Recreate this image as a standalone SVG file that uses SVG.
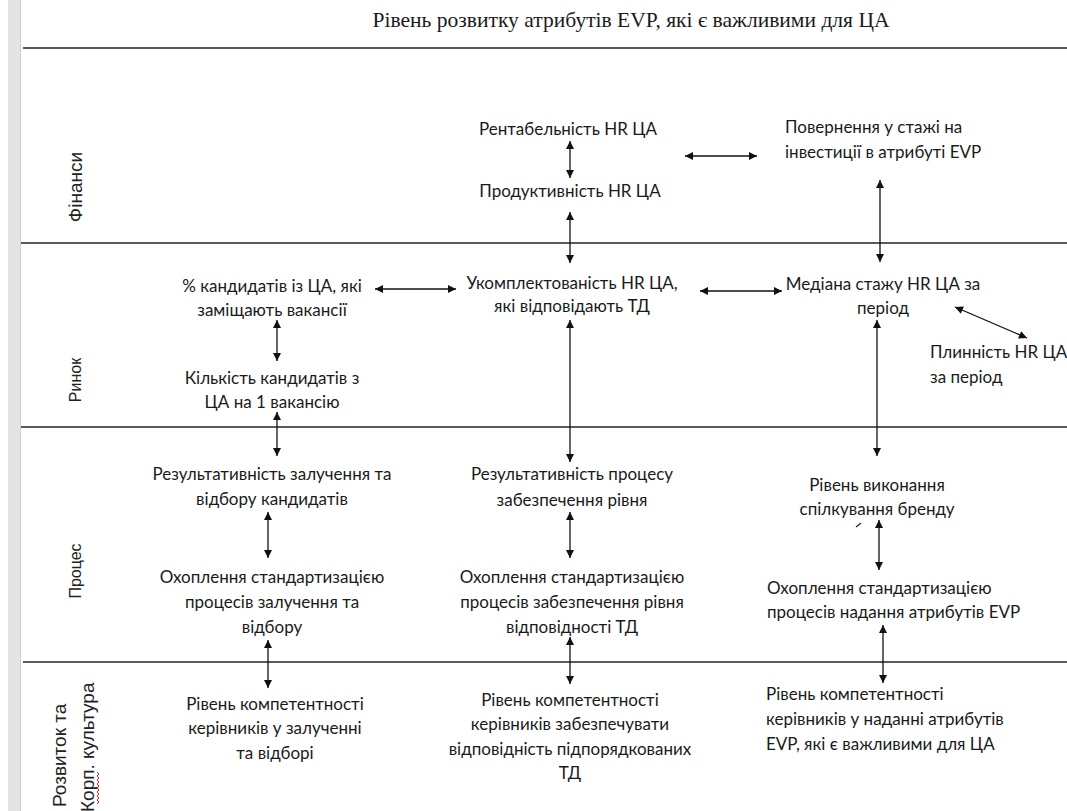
<svg xmlns="http://www.w3.org/2000/svg" width="1067" height="811" viewBox="0 0 1067 811">
  <style>
    .title { font-family: "Liberation Serif", "Times New Roman", serif; font-size: 21px; fill: #1a1a1a; }
    .lane { font-family: "Liberation Sans", Arial, sans-serif; font-size: 16px; fill: #222; }
    .lane-lg { font-size: 19px; }
    .t { font-family: Lato, "Open Sans", sans-serif; font-size: 17px; fill: #1a1a1a; }
    .c { text-anchor: middle; }
    .sep { stroke: #5a5a5a; stroke-width: 2; }
    .con { stroke: #111; stroke-width: 1.3; fill: none; marker-start: url(#head); marker-end: url(#head); }
  </style>
  <defs>
    <marker id="head" viewBox="0 0 10 10" refX="10" refY="5" markerWidth="9" markerHeight="8"
            markerUnits="userSpaceOnUse" orient="auto-start-reverse">
      <path d="M0,0 L10,5 L0,10 z" fill="#111"/>
    </marker>
  </defs>

  <rect width="1067" height="811" fill="#fff"/>

  <!-- left margin strip -->
  <rect x="8" y="0" width="12" height="811" fill="#e4e4e4"/>
  <line x1="20.5" y1="0" x2="20.5" y2="811" stroke="#cfcfcf" stroke-width="1"/>

  <!-- title -->
  <text class="title c" x="631" y="27" textLength="517" lengthAdjust="spacingAndGlyphs">Рівень розвитку атрибутів EVP, які є важливими для ЦА</text>

  <!-- lane separators and lane names -->
  <g id="lanes">
    <line class="sep" x1="23" y1="48" x2="1067" y2="48"/>
    <line class="sep" x1="21" y1="243" x2="1067" y2="243"/>
    <line class="sep" x1="21" y1="427" x2="1067" y2="427"/>
    <line class="sep" x1="23" y1="662" x2="1067" y2="662"/>
    <text class="lane lane-lg c" transform="rotate(-90 82 187)" x="82" y="187">Фінанси</text>
    <text class="lane c" transform="rotate(-90 81 380)" x="81" y="380">Ринок</text>
    <text class="lane c" transform="rotate(-90 81 571)" x="81" y="571">Процес</text>
    <text class="lane lane-lg" transform="rotate(-90 66 807)" x="66" y="807">Розвиток та</text>
    <text class="lane lane-lg" transform="rotate(-90 94 812)" x="94" y="812">Корп. культура</text>
    <!-- spell-check squiggle under "Корп." -->
    <path d="M97,804 l2,-2 l-2,-2 l2,-2 l-2,-2 l2,-2 l-2,-2 l2,-2 l-2,-2 l2,-2 l-2,-2 l2,-2 l-2,-2 l2,-2 l-2,-2 l2,-2 l-2,-2" stroke="#d22" stroke-width="1" fill="none"/>
  </g>

  <!-- Фінанси -->
  <g id="n-rentabelnist"><text class="t c" x="568" y="135">Рентабельність HR ЦА</text></g>
  <g id="n-produktyvnist"><text class="t c" x="570" y="197">Продуктивність HR ЦА</text></g>
  <g id="n-povernennia">
    <text class="t" x="785" y="133">Повернення у стажі на</text>
    <text class="t" x="785" y="158">інвестиції в атрибуті EVP</text>
  </g>

  <!-- Ринок -->
  <g id="n-kandydaty-pct">
    <text class="t c" x="272" y="292">% кандидатів із ЦА, які</text>
    <text class="t c" x="272" y="316">заміщають вакансії</text>
  </g>
  <g id="n-ukomplektovanist">
    <text class="t c" x="572" y="289">Укомплектованість HR ЦА,</text>
    <text class="t c" x="572" y="312">які відповідають ТД</text>
  </g>
  <g id="n-mediana">
    <text class="t c" x="883" y="290">Медіана стажу HR ЦА за</text>
    <text class="t c" x="883" y="314">період</text>
  </g>
  <g id="n-plynnist">
    <text class="t" x="930" y="358">Плинність HR ЦА</text>
    <text class="t" x="930" y="383">за період</text>
  </g>
  <g id="n-kilkist">
    <text class="t c" x="272" y="384">Кількість кандидатів з</text>
    <text class="t c" x="272" y="408">ЦА на 1 вакансію</text>
  </g>

  <!-- Процес -->
  <g id="n-rezult-zaluch">
    <text class="t c" x="272" y="480">Результативність залучення та</text>
    <text class="t c" x="272" y="505">відбору кандидатів</text>
  </g>
  <g id="n-rezult-proc">
    <text class="t c" x="572" y="480">Результативність процесу</text>
    <text class="t c" x="572" y="506">забезпечення рівня</text>
  </g>
  <g id="n-riven-vykon">
    <text class="t c" x="877" y="491">Рівень виконання</text>
    <text class="t c" x="877" y="515">спілкування бренду</text>
    <path d="M856,527 L861,523" stroke="#222" stroke-width="1.2"/>
  </g>
  <g id="n-okhopl-zaluch">
    <text class="t c" x="272" y="583">Охоплення стандартизацією</text>
    <text class="t c" x="272" y="608">процесів залучення та</text>
    <text class="t c" x="272" y="633">відбору</text>
  </g>
  <g id="n-okhopl-zabezp">
    <text class="t c" x="572" y="583">Охоплення стандартизацією</text>
    <text class="t c" x="572" y="608">процесів забезпечення рівня</text>
    <text class="t c" x="572" y="633">відповідності ТД</text>
  </g>
  <g id="n-okhopl-evp">
    <text class="t" x="767" y="594">Охоплення стандартизацією</text>
    <text class="t" x="767" y="618">процесів надання атрибутів EVP</text>
  </g>

  <!-- Розвиток та Корп. культура -->
  <g id="n-komp-zaluch">
    <text class="t c" x="275" y="710">Рівень компетентності</text>
    <text class="t c" x="275" y="734">керівників у залученні</text>
    <text class="t c" x="275" y="759">та відборі</text>
  </g>
  <g id="n-komp-zabezp">
    <text class="t c" x="570" y="706">Рівень компетентності</text>
    <text class="t c" x="570" y="730">керівників забезпечувати</text>
    <text class="t c" x="570" y="755">відповідність підпорядкованих</text>
    <text class="t c" x="570" y="779">ТД</text>
  </g>
  <g id="n-komp-evp">
    <text class="t" x="766" y="700">Рівень компетентності</text>
    <text class="t" x="766" y="725">керівників у наданні атрибутів</text>
    <text class="t" x="766" y="750">EVP, які є важливими для ЦА</text>
  </g>

  <!-- connectors -->
  <g id="connectors">
    <line class="con" x1="570" y1="141" x2="570" y2="178"/>
    <line class="con" x1="685" y1="156" x2="757" y2="156"/>
    <line class="con" x1="570" y1="212" x2="570" y2="263"/>
    <line class="con" x1="880" y1="180" x2="880" y2="262"/>
    <line class="con" x1="375" y1="289" x2="456" y2="289"/>
    <line class="con" x1="700" y1="291" x2="782" y2="291"/>
    <line class="con" x1="955" y1="307" x2="1027" y2="338"/>
    <line class="con" x1="277" y1="320" x2="277" y2="361"/>
    <line class="con" x1="570" y1="320" x2="570" y2="462"/>
    <line class="con" x1="277" y1="412" x2="277" y2="456"/>
    <line class="con" x1="877" y1="320" x2="877" y2="456"/>
    <line class="con" x1="268" y1="512" x2="268" y2="558"/>
    <line class="con" x1="570" y1="512" x2="570" y2="558"/>
    <line class="con" x1="879" y1="520" x2="879" y2="570"/>
    <line class="con" x1="268" y1="640" x2="268" y2="688"/>
    <line class="con" x1="570" y1="637" x2="570" y2="684"/>
    <line class="con" x1="883" y1="625" x2="883" y2="683"/>
  </g>
</svg>
